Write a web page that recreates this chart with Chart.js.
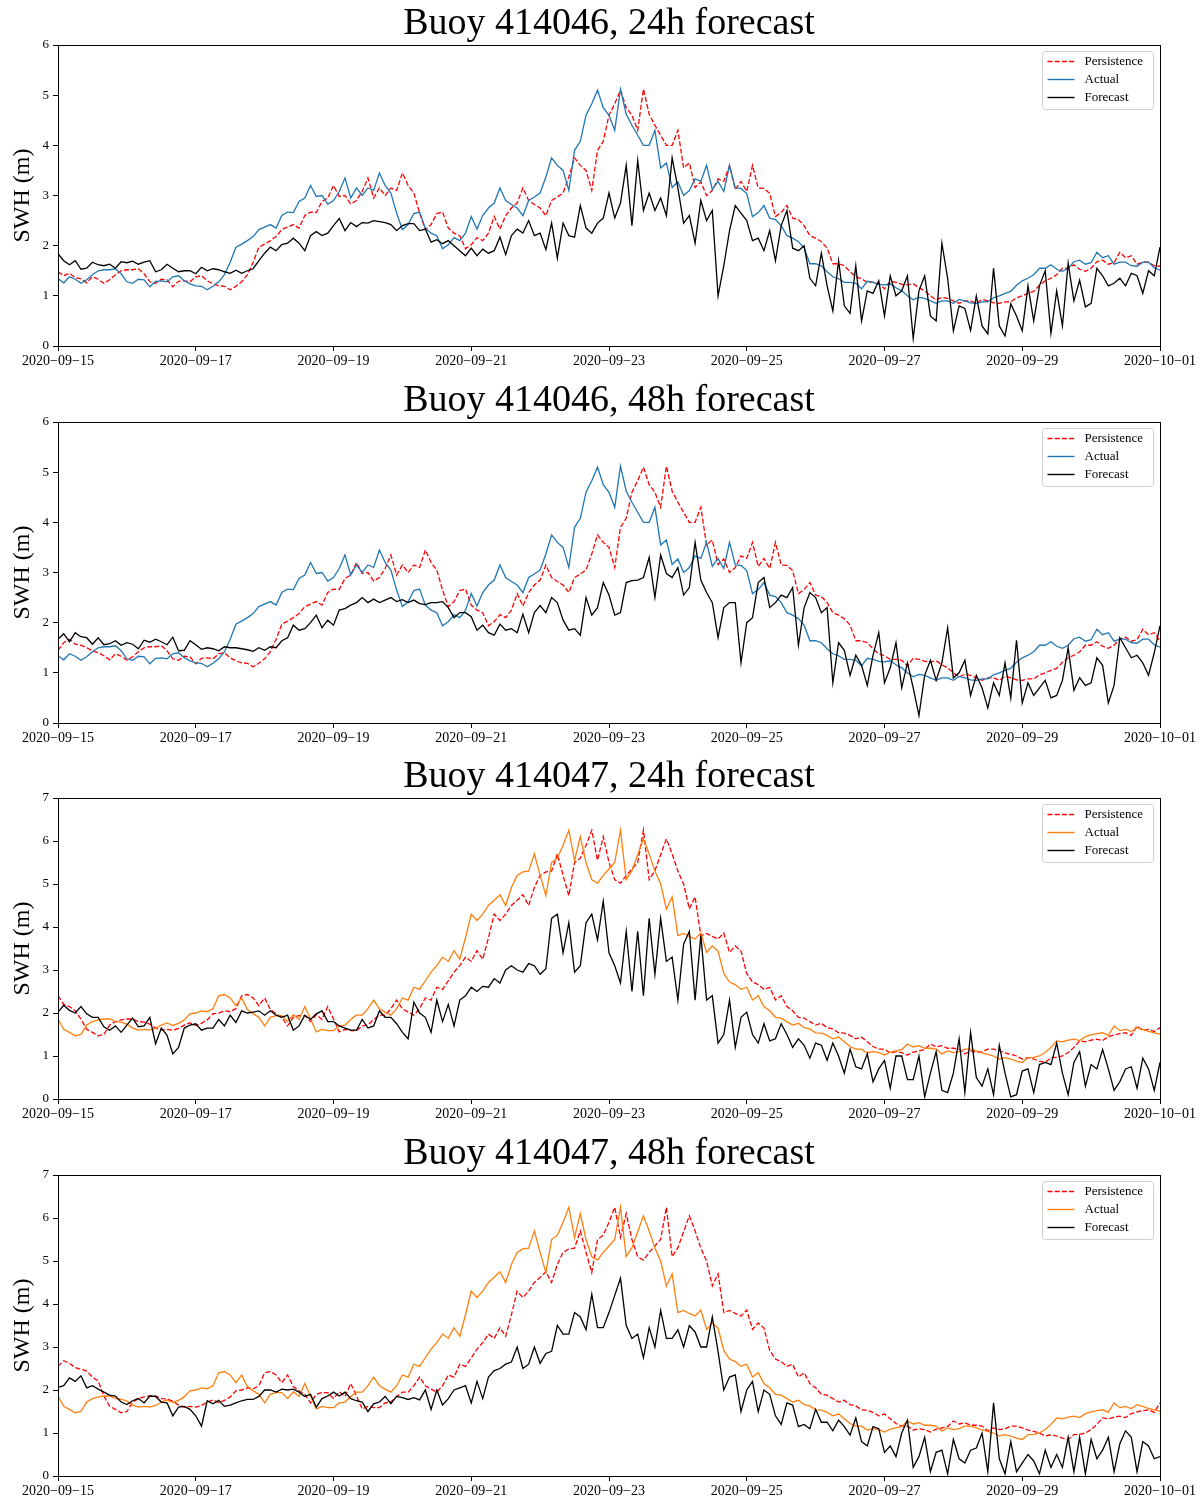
<!DOCTYPE html>
<html>
<head>
<meta charset="utf-8">
<script src="https://cdn.jsdelivr.net/npm/chart.js@4.4.1/dist/chart.umd.min.js"></script>
<style>
  html, body { margin: 0; padding: 0; background: #fff; }
  #wrap { position: relative; width: 1202px; height: 1497px; }
  canvas { position: absolute; left: 0; }
</style>
</head>
<body>
<div id="wrap">
  <canvas id="c1" width="1202" height="376" style="top:0px"></canvas>
  <canvas id="c2" width="1202" height="376" style="top:377px"></canvas>
  <canvas id="c3" width="1202" height="376" style="top:753px"></canvas>
  <canvas id="c4" width="1202" height="367" style="top:1130px"></canvas>
</div>
<script>
// days since 2020-09-15; all series sampled every 2h
const STEP = 2 / 24;

const xTickDays = [0, 2, 4, 6, 8, 10, 12, 14, 16];
const xTickLabels = ['2020\u221209\u221215', '2020\u221209\u221217', '2020\u221209\u221219', '2020\u221209\u221221',
  '2020\u221209\u221223', '2020\u221209\u221225', '2020\u221209\u221227', '2020\u221209\u221229', '2020\u221210\u221201'];

// ---- buoy 414046 ----
const actual_414046 = [
  1.34,1.26,1.38,1.33,1.25,1.32,1.42,1.50,1.52,1.52,
  1.54,1.44,1.28,1.25,1.33,1.32,1.18,1.29,1.30,1.28,
  1.38,1.40,1.30,1.24,1.20,1.19,1.12,1.19,1.28,1.42,
  1.67,1.97,2.03,2.10,2.18,2.32,2.37,2.42,2.35,2.60,
  2.67,2.66,2.88,2.95,3.20,2.98,3.00,2.83,2.90,3.08,
  3.35,2.95,3.15,3.00,3.15,3.10,3.45,3.20,3.05,2.65,
  2.32,2.42,2.64,2.67,2.35,2.25,2.20,1.94,2.02,2.16,
  2.10,2.25,2.58,2.33,2.60,2.75,2.85,3.15,2.90,2.82,
  2.75,2.60,2.90,2.97,3.05,3.37,3.75,3.60,3.50,3.10,
  3.90,4.08,4.60,4.83,5.10,4.75,4.60,4.30,5.12,4.62,
  4.40,4.20,4.00,4.00,4.30,3.55,3.65,3.16,3.27,3.00,
  3.10,3.33,3.28,3.60,3.12,3.28,3.08,3.60,3.15,3.14,
  3.04,2.58,2.66,2.80,2.55,2.52,2.40,2.20,2.15,2.08,
  1.95,1.64,1.64,1.60,1.48,1.38,1.34,1.27,1.27,1.25,
  1.14,1.29,1.27,1.23,1.22,1.24,1.16,1.10,1.00,0.92,
  0.97,0.95,0.90,0.85,0.90,0.90,0.85,0.93,0.90,0.86,
  0.85,0.88,0.88,0.96,1.00,1.05,1.09,1.21,1.30,1.35,
  1.42,1.55,1.55,1.62,1.53,1.49,1.55,1.68,1.71,1.63,
  1.66,1.87,1.76,1.80,1.63,1.67,1.67,1.60,1.59,1.67,
  1.67,1.56,1.51
];
const persistence24_414046 = [
  1.48,1.40,1.45,1.36,
  1.34,1.26,1.38,1.33,1.25,1.32,1.42,1.50,1.52,1.52,
  1.54,1.44,1.28,1.25,1.33,1.32,1.18,1.29,1.30,1.28,
  1.38,1.40,1.30,1.24,1.20,1.19,1.12,1.19,1.28,1.42,
  1.67,1.97,2.03,2.10,2.18,2.32,2.37,2.42,2.35,2.60,
  2.67,2.66,2.88,2.95,3.20,2.98,3.00,2.83,2.90,3.08,
  3.35,2.95,3.15,3.00,3.15,3.10,3.45,3.20,3.05,2.65,
  2.32,2.42,2.64,2.67,2.35,2.25,2.20,1.94,2.02,2.16,
  2.10,2.25,2.58,2.33,2.60,2.75,2.85,3.15,2.90,2.82,
  2.75,2.60,2.90,2.97,3.05,3.37,3.75,3.60,3.50,3.10,
  3.90,4.08,4.60,4.83,5.10,4.75,4.60,4.30,5.12,4.62,
  4.40,4.20,4.00,4.00,4.30,3.55,3.65,3.16,3.27,3.00,
  3.10,3.33,3.28,3.60,3.12,3.28,3.08,3.60,3.15,3.14,
  3.04,2.58,2.66,2.80,2.55,2.52,2.40,2.20,2.15,2.08,
  1.95,1.64,1.64,1.60,1.48,1.38,1.34,1.27,1.27,1.25,
  1.14,1.29,1.27,1.23,1.22,1.24,1.16,1.10,1.00,0.92,
  0.97,0.95,0.90,0.85,0.90,0.90,0.85,0.93,0.90,0.86,
  0.85,0.88,0.88,0.96,1.00,1.05,1.09,1.21,1.30,1.35,
  1.42,1.55,1.55,1.62,1.53,1.49,1.55,1.68,1.71,1.63,
  1.66,1.87,1.76,1.80,1.63,1.67,1.67,1.60,1.59
];
const persistence48_414046 = [
  1.45,1.60,1.67,1.57,1.55,1.50,1.44,1.40,
  1.34,1.26,1.38,1.33,1.25,1.32,1.42,1.50,1.52,1.52,
  1.54,1.44,1.28,1.25,1.33,1.32,1.18,1.29,1.30,1.28,
  1.38,1.40,1.30,1.24,1.20,1.19,1.12,1.19,1.28,1.42,
  1.67,1.97,2.03,2.10,2.18,2.32,2.37,2.42,2.35,2.60,
  2.67,2.66,2.88,2.95,3.20,2.98,3.00,2.83,2.90,3.08,
  3.35,2.95,3.15,3.00,3.15,3.10,3.45,3.20,3.05,2.65,
  2.32,2.42,2.64,2.67,2.35,2.25,2.20,1.94,2.02,2.16,
  2.10,2.25,2.58,2.33,2.60,2.75,2.85,3.15,2.90,2.82,
  2.75,2.60,2.90,2.97,3.05,3.37,3.75,3.60,3.50,3.10,
  3.90,4.08,4.60,4.83,5.10,4.75,4.60,4.30,5.12,4.62,
  4.40,4.20,4.00,4.00,4.30,3.55,3.65,3.16,3.27,3.00,
  3.10,3.33,3.28,3.60,3.12,3.28,3.08,3.60,3.15,3.14,
  3.04,2.58,2.66,2.80,2.55,2.52,2.40,2.20,2.15,2.08,
  1.95,1.64,1.64,1.60,1.48,1.38,1.34,1.27,1.27,1.25,
  1.14,1.29,1.27,1.23,1.22,1.24,1.16,1.10,1.00,0.92,
  0.97,0.95,0.90,0.85,0.90,0.90,0.85,0.93,0.90,0.86,
  0.85,0.88,0.88,0.96,1.00,1.05,1.09,1.21,1.30,1.35,
  1.42,1.55,1.55,1.62,1.53,1.49,1.55,1.68,1.71,1.63,
  1.66,1.87,1.76,1.80,1.63
];
const forecast24_414046 = [
  1.84,1.70,1.62,1.70,1.53,1.55,1.67,1.62,1.60,1.63,
  1.55,1.68,1.66,1.69,1.63,1.67,1.70,1.48,1.52,1.63,
  1.55,1.48,1.50,1.50,1.44,1.57,1.50,1.54,1.52,1.48,
  1.45,1.51,1.45,1.50,1.54,1.70,1.85,1.97,1.90,2.02,
  2.05,2.15,2.05,1.90,2.20,2.28,2.20,2.25,2.40,2.54,
  2.30,2.46,2.38,2.46,2.45,2.50,2.48,2.46,2.42,2.30,
  2.40,2.44,2.44,2.30,2.33,2.07,2.12,2.04,2.10,2.00,
  1.90,1.80,1.95,1.80,1.93,1.85,1.90,2.17,1.82,2.20,
  2.33,2.25,2.50,2.20,2.25,1.92,2.45,1.75,2.45,2.20,
  2.17,2.80,2.35,2.25,2.45,2.55,3.05,2.55,2.85,3.60,
  2.40,3.70,2.70,3.05,2.70,2.95,2.60,3.75,3.15,2.45,
  2.60,2.05,2.90,2.50,2.70,1.00,1.60,2.30,2.80,2.65,
  2.50,2.10,2.15,1.90,2.30,1.70,2.40,2.70,1.95,1.90,
  2.00,1.35,1.20,1.85,1.20,0.70,1.70,0.80,0.65,1.60,
  0.50,1.10,1.05,1.30,0.60,1.40,1.00,1.10,1.40,0.15,
  1.10,1.40,0.60,0.50,2.05,1.35,0.30,0.80,0.75,0.31,
  1.00,0.40,0.24,1.55,0.40,0.20,0.84,0.60,0.30,1.20,
  0.50,1.20,1.50,0.25,1.10,0.40,1.65,0.90,1.31,0.78,
  0.85,1.55,1.40,1.20,1.25,1.35,1.20,1.45,1.40,1.05,
  1.50,1.40,1.97
];
const forecast48_414046 = [
  1.67,1.78,1.62,1.80,1.72,1.70,1.57,1.70,1.56,1.58,
  1.64,1.55,1.60,1.57,1.48,1.65,1.61,1.67,1.62,1.56,
  1.71,1.44,1.45,1.64,1.56,1.47,1.50,1.48,1.44,1.52,
  1.50,1.50,1.48,1.46,1.43,1.50,1.45,1.52,1.50,1.64,
  1.70,1.95,1.85,1.88,2.00,2.15,1.90,2.05,1.95,2.25,
  2.28,2.35,2.40,2.50,2.40,2.47,2.40,2.45,2.50,2.42,
  2.46,2.40,2.45,2.38,2.36,2.40,2.40,2.42,2.30,2.10,
  2.20,2.20,2.12,1.85,1.95,1.80,1.75,1.97,1.85,1.88,
  1.80,2.17,1.80,2.20,2.34,2.20,2.50,2.40,2.05,1.85,
  1.88,1.75,2.50,2.15,2.30,2.80,2.55,2.15,2.20,2.80,
  2.84,2.85,2.90,3.30,2.50,3.35,2.98,2.90,3.10,2.55,
  2.70,3.60,2.85,2.60,2.40,1.70,2.30,2.40,2.40,1.20,
  2.00,2.10,2.80,2.90,2.30,2.40,2.55,2.50,2.70,1.55,
  2.30,2.60,2.50,2.20,2.30,0.80,1.60,1.45,0.95,1.35,
  1.15,0.75,1.35,1.80,0.80,1.10,1.60,0.70,1.20,0.70,
  0.15,0.95,1.25,0.85,1.20,1.90,0.90,1.00,1.25,0.55,
  0.95,0.70,0.30,0.80,0.55,1.20,0.50,1.65,0.40,0.80,
  0.55,0.70,0.85,0.50,0.55,0.85,1.50,0.65,0.90,0.75,
  0.80,1.30,1.15,0.40,0.75,1.70,1.50,1.30,1.35,1.20,
  0.95,1.40,1.94
];

// ---- buoy 414047 ----
const actual_414047 = [
  1.86,1.62,1.55,1.47,1.50,1.72,1.80,1.84,1.86,1.86,
  1.80,1.79,1.74,1.65,1.60,1.62,1.60,1.64,1.72,1.77,
  1.71,1.76,1.84,1.98,2.00,2.05,2.03,2.10,2.40,2.43,
  2.35,2.17,2.35,2.08,1.98,1.90,1.70,1.90,1.94,1.94,
  1.80,1.96,1.85,2.15,1.86,1.56,1.62,1.59,1.59,1.70,
  1.72,1.85,1.95,1.95,2.10,2.30,2.10,2.02,1.95,2.10,
  2.35,2.30,2.60,2.55,2.75,2.95,3.10,3.30,3.20,3.45,
  3.25,3.75,4.30,4.15,4.30,4.50,4.62,4.75,4.50,4.92,
  5.20,5.28,5.30,5.70,5.20,4.73,5.50,5.60,5.90,6.25,
  5.55,6.10,5.50,5.10,5.02,5.20,5.35,5.50,6.25,5.10,
  5.31,5.68,6.05,5.70,5.30,5.00,4.42,4.70,3.80,3.85,
  3.78,3.72,3.86,3.41,3.56,3.44,2.92,2.72,2.66,2.55,
  2.60,2.30,2.40,2.15,2.05,1.90,1.88,1.80,1.72,1.76,
  1.66,1.63,1.54,1.53,1.48,1.40,1.44,1.33,1.22,1.16,
  1.16,1.07,1.10,1.08,1.02,1.09,1.12,1.15,1.28,1.21,
  1.24,1.18,1.18,1.16,1.05,1.12,1.08,1.10,1.16,1.16,
  1.12,1.07,1.04,1.00,0.93,0.96,0.93,0.88,0.85,0.96,
  0.97,1.00,1.08,1.20,1.35,1.33,1.37,1.39,1.36,1.45,
  1.49,1.52,1.54,1.48,1.70,1.59,1.62,1.57,1.66,1.62,
  1.57,1.54,1.51
];
const persistence24_414047 = [
  2.40,2.20,2.15,2.05,
  1.86,1.62,1.55,1.47,1.50,1.72,1.80,1.84,1.86,1.86,
  1.80,1.79,1.74,1.65,1.60,1.62,1.60,1.64,1.72,1.77,
  1.71,1.76,1.84,1.98,2.00,2.05,2.03,2.10,2.40,2.43,
  2.35,2.17,2.35,2.08,1.98,1.90,1.70,1.90,1.94,1.94,
  1.80,1.96,1.85,2.15,1.86,1.56,1.62,1.59,1.59,1.70,
  1.72,1.85,1.95,1.95,2.10,2.30,2.10,2.02,1.95,2.10,
  2.35,2.30,2.60,2.55,2.75,2.95,3.10,3.30,3.20,3.45,
  3.25,3.75,4.30,4.15,4.30,4.50,4.62,4.75,4.50,4.92,
  5.20,5.28,5.30,5.70,5.20,4.73,5.50,5.60,5.90,6.25,
  5.55,6.10,5.50,5.10,5.02,5.20,5.35,5.50,6.25,5.10,
  5.31,5.68,6.05,5.70,5.30,5.00,4.42,4.70,3.80,3.85,
  3.78,3.72,3.86,3.41,3.56,3.44,2.92,2.72,2.66,2.55,
  2.60,2.30,2.40,2.15,2.05,1.90,1.88,1.80,1.72,1.76,
  1.66,1.63,1.54,1.53,1.48,1.40,1.44,1.33,1.22,1.16,
  1.16,1.07,1.10,1.08,1.02,1.09,1.12,1.15,1.28,1.21,
  1.24,1.18,1.18,1.16,1.05,1.12,1.08,1.10,1.16,1.16,
  1.12,1.07,1.04,1.00,0.93,0.96,0.93,0.88,0.85,0.96,
  0.97,1.00,1.08,1.20,1.35,1.33,1.37,1.39,1.36,1.45,
  1.49,1.52,1.54,1.48,1.70,1.59,1.62,1.57,1.66
];
const persistence48_414047 = [
  2.55,2.68,2.62,2.52,2.48,2.44,2.30,2.21,
  1.86,1.62,1.55,1.47,1.50,1.72,1.80,1.84,1.86,1.86,
  1.80,1.79,1.74,1.65,1.60,1.62,1.60,1.64,1.72,1.77,
  1.71,1.76,1.84,1.98,2.00,2.05,2.03,2.10,2.40,2.43,
  2.35,2.17,2.35,2.08,1.98,1.90,1.70,1.90,1.94,1.94,
  1.80,1.96,1.85,2.15,1.86,1.56,1.62,1.59,1.59,1.70,
  1.72,1.85,1.95,1.95,2.10,2.30,2.10,2.02,1.95,2.10,
  2.35,2.30,2.60,2.55,2.75,2.95,3.10,3.30,3.20,3.45,
  3.25,3.75,4.30,4.15,4.30,4.50,4.62,4.75,4.50,4.92,
  5.20,5.28,5.30,5.70,5.20,4.73,5.50,5.60,5.90,6.25,
  5.55,6.10,5.50,5.10,5.02,5.20,5.35,5.50,6.25,5.10,
  5.31,5.68,6.05,5.70,5.30,5.00,4.42,4.70,3.80,3.85,
  3.78,3.72,3.86,3.41,3.56,3.44,2.92,2.72,2.66,2.55,
  2.60,2.30,2.40,2.15,2.05,1.90,1.88,1.80,1.72,1.76,
  1.66,1.63,1.54,1.53,1.48,1.40,1.44,1.33,1.22,1.16,
  1.16,1.07,1.10,1.08,1.02,1.09,1.12,1.15,1.28,1.21,
  1.24,1.18,1.18,1.16,1.05,1.12,1.08,1.10,1.16,1.16,
  1.12,1.07,1.04,1.00,0.93,0.96,0.93,0.88,0.85,0.96,
  0.97,1.00,1.08,1.20,1.35,1.33,1.37,1.39,1.36,1.45,
  1.49,1.52,1.54,1.48,1.70
];
const forecast24_414047 = [
  2.02,2.18,2.06,2.00,2.15,1.98,1.90,1.90,1.68,1.60,
  1.70,1.55,1.72,1.88,1.68,1.70,1.90,1.28,1.65,1.48,
  1.05,1.20,1.65,1.72,1.75,1.60,1.65,1.65,1.85,1.70,
  1.95,1.78,2.05,2.00,2.02,2.05,1.95,2.05,1.95,1.90,
  1.95,1.60,1.70,1.95,1.85,1.98,2.05,1.80,1.80,1.70,
  1.65,1.60,1.60,1.85,1.65,1.70,2.05,1.90,1.90,1.75,
  1.55,1.40,2.25,2.00,1.90,1.55,2.30,1.80,2.20,1.70,
  2.30,2.40,2.60,2.50,2.62,2.60,2.80,2.70,3.00,3.10,
  3.00,2.95,3.15,3.10,2.90,3.03,4.20,4.30,3.40,4.10,
  2.95,3.10,4.10,4.30,3.70,4.60,3.40,3.10,2.70,3.90,
  2.50,3.90,2.40,4.20,2.90,4.20,3.20,3.30,2.30,3.60,
  3.90,2.30,3.80,2.30,2.40,1.30,1.50,2.30,1.20,1.90,
  2.02,1.50,1.30,1.75,1.35,1.40,1.75,1.50,1.20,1.40,
  1.25,0.95,1.30,1.25,0.90,1.30,1.00,0.60,1.16,0.75,
  0.70,1.05,0.40,0.70,0.90,0.25,1.00,1.00,0.45,0.45,
  1.00,0.05,0.60,1.10,0.20,0.15,0.60,1.40,0.15,1.55,
  0.50,0.30,0.70,0.10,1.25,0.60,0.05,0.10,0.65,0.70,
  0.15,0.80,0.85,0.80,1.30,0.60,0.10,0.85,1.10,0.30,
  0.80,0.70,1.15,0.70,0.20,0.40,0.70,0.75,0.25,0.95,
  0.70,0.20,0.85
];
const forecast48_414047 = [
  2.06,2.10,2.28,2.20,2.33,2.05,2.10,2.02,1.95,1.88,
  1.86,1.72,1.66,1.75,1.80,1.70,1.86,1.85,1.72,1.70,
  1.40,1.60,1.62,1.55,1.40,1.16,1.75,1.68,1.76,1.62,
  1.65,1.70,1.75,1.78,1.78,1.85,2.00,2.00,1.95,2.02,
  2.00,2.02,1.95,1.85,1.90,1.60,1.80,1.86,1.95,1.86,
  1.95,1.80,1.75,1.72,1.50,1.68,1.72,1.85,1.68,1.85,
  1.82,1.78,1.82,1.77,2.00,1.55,2.00,1.65,1.80,2.00,
  2.05,2.10,1.70,2.20,1.80,2.30,2.45,2.50,2.60,2.65,
  3.00,2.50,2.60,3.00,2.62,2.85,2.90,3.50,3.30,3.30,
  3.80,3.70,3.40,4.23,3.45,3.45,3.80,4.20,4.60,3.50,
  3.20,3.30,2.75,3.45,3.00,3.85,3.20,3.20,3.40,3.00,
  3.50,3.35,3.00,3.00,3.70,2.90,2.00,2.30,2.35,1.50,
  2.00,2.20,1.50,2.00,1.90,1.40,1.20,1.70,1.65,1.15,
  1.20,1.10,1.55,1.25,1.25,1.05,1.30,1.15,0.95,1.35,
  0.80,0.70,1.15,1.10,0.55,0.70,0.45,1.00,1.30,0.20,
  0.45,0.90,0.10,0.55,0.60,0.05,0.85,0.40,0.30,0.60,
  0.65,1.00,0.10,1.70,0.40,0.05,0.80,0.10,0.30,0.50,
  0.35,0.05,0.60,0.20,0.50,0.20,0.90,0.10,0.90,0.05,
  0.85,0.40,0.60,0.90,0.10,0.75,1.05,0.90,0.10,0.80,
  0.70,0.40,0.45
];

const SERIF = "'Liberation Serif', 'DejaVu Serif', serif";
const BLUE = '#1f77b4', ORANGE = '#ff7f0e';

const panels = [
  { id: 'c1', title: 'Buoy 414046, 24h forecast', persistence: persistence24_414046, actual: actual_414046, forecast: forecast24_414046, color: BLUE, yMax: 6 },
  { id: 'c2', title: 'Buoy 414046, 48h forecast', persistence: persistence48_414046, actual: actual_414046, forecast: forecast48_414046, color: BLUE, yMax: 6 },
  { id: 'c3', title: 'Buoy 414047, 24h forecast', persistence: persistence24_414047, actual: actual_414047, forecast: forecast24_414047, color: ORANGE, yMax: 7 },
  { id: 'c4', title: 'Buoy 414047, 48h forecast', persistence: persistence48_414047, actual: actual_414047, forecast: forecast48_414047, color: ORANGE, yMax: 7 }
];

function toXY(values) {
  return values.map((v, i) => ({ x: i * STEP, y: v }));
}

// closed box around the axes, like a matplotlib frame
const frame = {
  id: 'frame',
  afterDatasetsDraw(chart) {
    const { ctx, chartArea: a } = chart;
    ctx.save();
    ctx.strokeStyle = '#000';
    ctx.lineWidth = 1;
    ctx.strokeRect(Math.round(a.left) + 0.5, Math.round(a.top) + 0.5,
      Math.round(a.right - a.left), Math.round(a.bottom - a.top));
    ctx.restore();
  }
};

// legend box in the upper right corner of the plot
const boxLegend = {
  id: 'boxLegend',
  afterDraw(chart) {
    const { ctx, chartArea } = chart;
    const w = 111, h = 58;
    const x = Math.round(chartArea.right) - 7 - w + 0.5;
    const y = Math.round(chartArea.top) + 6 + 0.5;
    ctx.save();
    ctx.beginPath();
    ctx.roundRect(x, y, w, h, 3);
    ctx.fillStyle = 'rgba(255,255,255,0.8)';
    ctx.fill();
    ctx.strokeStyle = '#d0d0d0';
    ctx.lineWidth = 1;
    ctx.stroke();
    chart.data.datasets.forEach((ds, i) => {
      const ly = y + 10 + i * 18;
      ctx.beginPath();
      ctx.setLineDash(ds.borderDash || []);
      ctx.strokeStyle = ds.borderColor;
      ctx.lineWidth = 1.4;
      ctx.moveTo(x + 5, ly);
      ctx.lineTo(x + 32, ly);
      ctx.stroke();
      ctx.setLineDash([]);
      ctx.fillStyle = '#000';
      ctx.font = '13px ' + SERIF;
      ctx.textBaseline = 'middle';
      ctx.fillText(ds.label, x + 42, ly);
    });
    ctx.restore();
  }
};

function makeChart(p) {
  const canvas = document.getElementById(p.id);
  const xAxisHeight = canvas.height - 346;
  return new Chart(canvas.getContext('2d'), {
    type: 'line',
    data: {
      datasets: [
        { label: 'Persistence', data: toXY(p.persistence), borderColor: '#ff0000', borderDash: [5, 2.2], order: 2 },
        { label: 'Actual', data: toXY(p.actual), borderColor: p.color, order: 1 },
        { label: 'Forecast', data: toXY(p.forecast), borderColor: '#000000', order: 0 }
      ]
    },
    options: {
      responsive: false,
      animation: false,
      devicePixelRatio: 1,
      elements: {
        line: { borderWidth: 1.3, tension: 0, fill: false },
        point: { radius: 0 }
      },
      layout: { padding: { left: 0, right: 42, top: 0, bottom: 0 } },
      plugins: {
        legend: { display: false },
        tooltip: { enabled: false },
        title: {
          display: true,
          text: p.title,
          fullSize: false,
          color: '#000',
          font: { family: SERIF, size: 38, weight: 'normal', lineHeight: 1 },
          padding: { top: 5, bottom: 2 }
        }
      },
      scales: {
        x: {
          type: 'linear',
          min: 0,
          max: 16,
          afterFit: s => { s.height = xAxisHeight; },
          afterBuildTicks: s => { s.ticks = xTickDays.map(v => ({ value: v })); },
          ticks: {
            callback: (v, i) => xTickLabels[i],
            font: { family: SERIF, size: 14 },
            color: '#000',
            maxRotation: 0,
            autoSkip: false,
            padding: 2
          },
          grid: { drawOnChartArea: false, drawTicks: true, tickLength: 5, color: '#000' },
          border: { display: true, color: '#000', width: 1 }
        },
        y: {
          min: 0,
          max: p.yMax,
          afterFit: s => { s.width = 58; },
          ticks: { stepSize: 1, font: { family: SERIF, size: 13 }, color: '#000', padding: 4 },
          grid: { drawOnChartArea: false, drawTicks: true, tickLength: 5, color: '#000' },
          border: { display: true, color: '#000', width: 1 },
          title: {
            display: true,
            text: 'SWH (m)',
            color: '#000',
            font: { family: SERIF, size: 24 },
            padding: { top: 8, bottom: 0 }
          }
        }
      }
    },
    plugins: [frame, boxLegend]
  });
}

panels.forEach(makeChart);
</script>
</body>
</html>
